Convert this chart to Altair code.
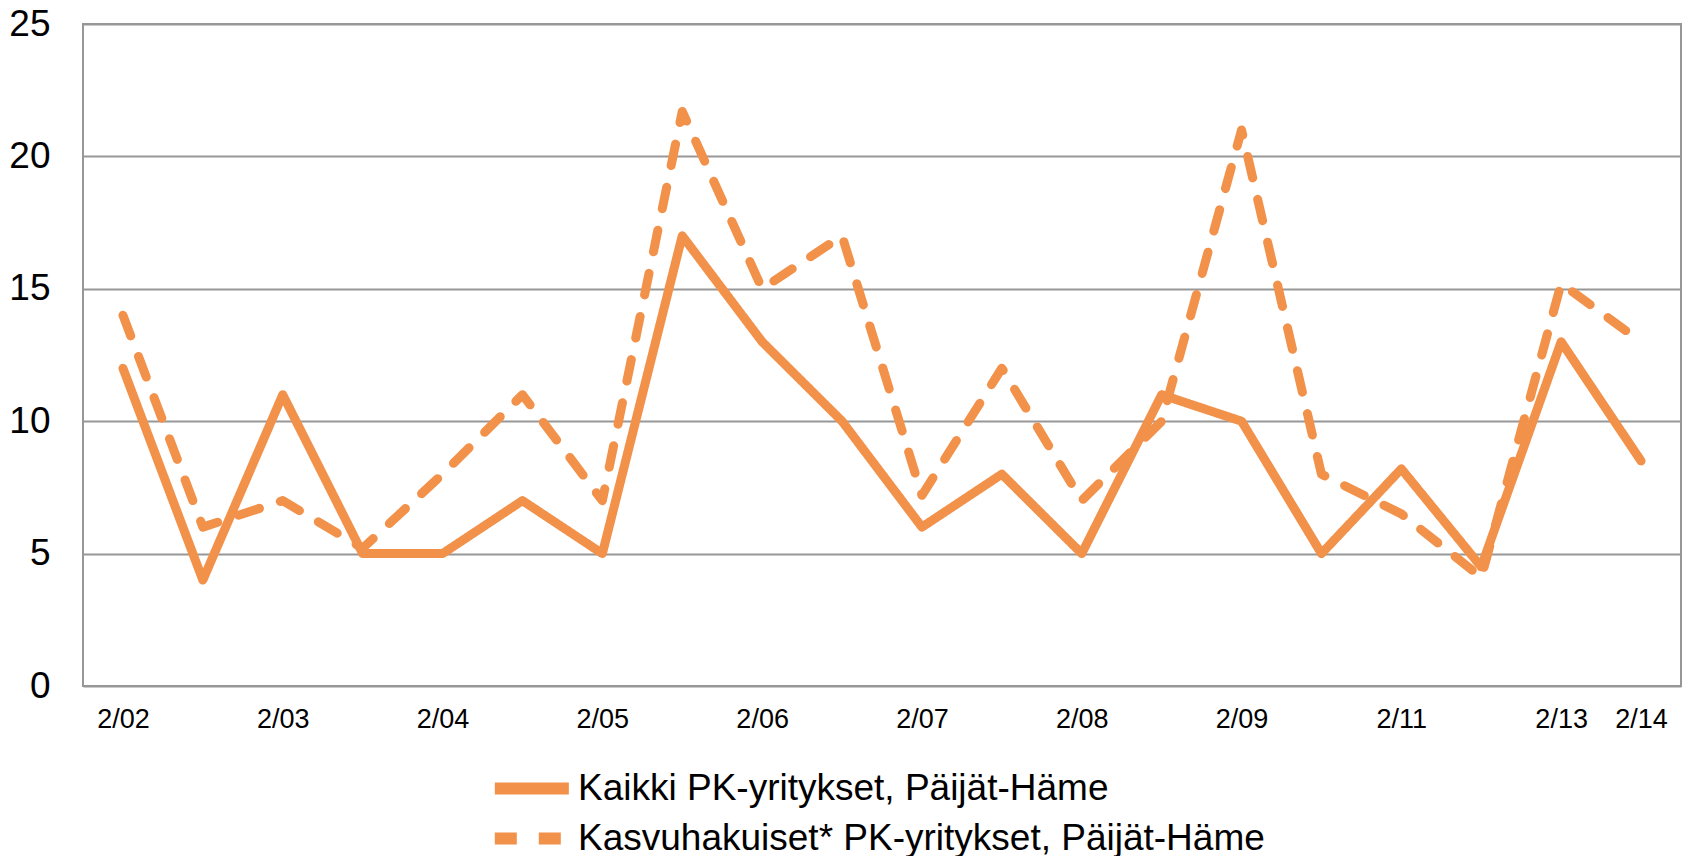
import altair as alt
import pandas as pd

# Periods (half-yearly early on); only some are labelled on the axis
categories = ["2/02", "8/02", "2/03", "8/03", "2/04", "8/04", "2/05", "8/05",
              "2/06", "8/06", "2/07", "8/07", "2/08", "8/08", "2/09", "2/10",
              "2/11", "2/12", "2/13", "2/14"]
tick_labels = ["2/02", "2/03", "2/04", "2/05", "2/06", "2/07", "2/08", "2/09",
               "2/11", "2/13", "2/14"]

series_names = ["Kaikki PK-yritykset, Päijät-Häme",
                "Kasvuhakuiset* PK-yritykset, Päijät-Häme"]

kaikki = [12, 4, 11, 5, 5, 7, 5, 17, 13, 10, 6, 8, 5, 11, 10, 5, 8.2, 4.5, 13, 8.5]
kasvuhakuiset = [14, 6, 7, 5.2, 8, 11, 7, 21.7, 15, 17, 7.2, 12, 7, 10, 21, 8, 6.5, 4.1, 15.2, 13]

ORANGE = "#F2914A"
GRID = "#979797"

rows = []
for name, vals in zip(series_names, [kaikki, kasvuhakuiset]):
    for i, (c, v) in enumerate(zip(categories, vals)):
        rows.append({"period": c, "value": v, "series": name, "order": i})
df = pd.DataFrame(rows)

chart = alt.Chart(df).mark_line(
    color=ORANGE, strokeWidth=9, strokeCap="round", strokeJoin="round"
).encode(
    x=alt.X("period:N", sort=categories, title=None,
            scale=alt.Scale(type="point", padding=0.5),
            axis=alt.Axis(values=tick_labels, labelAngle=0, ticks=False,
                          domain=False, grid=False, labelFontSize=27,
                          labelFont="Liberation Sans", labelColor="black",
                          labelPadding=20)),
    y=alt.Y("value:Q", title=None,
            scale=alt.Scale(domain=[0, 25], nice=False),
            axis=alt.Axis(values=[0, 5, 10, 15, 20, 25], ticks=False,
                          domain=False, grid=True, gridColor=GRID,
                          gridWidth=2, labelFontSize=37,
                          labelFont="Liberation Sans", labelColor="black",
                          labelPadding=33)),
    strokeDash=alt.StrokeDash("series:N", sort=series_names, title=None,
                              scale=alt.Scale(domain=series_names,
                                              range=[[1, 0], [22, 22]]),
                              legend=alt.Legend(
                                  orient="none", legendX=455, legendY=746,
                                  direction="vertical", symbolType="M-5,0H1",
                                  symbolSize=609, symbolStrokeWidth=12,
                                  symbolStrokeColor=ORANGE,
                                  labelFontSize=37, labelFont="Liberation Sans",
                                  labelColor="black", labelOffset=3,
                                  rowPadding=1, padding=0, labelLimit=1000)),
    order="order:Q",
).properties(
    width=1598, height=662,
    autosize=alt.AutoSizeParams(type="none"),
    padding={"left": 75, "top": 16, "right": 1, "bottom": 170},
).configure_view(
    stroke=GRID, strokeWidth=2
)

chart.save("out.html", embed_options={"renderer": "svg", "actions": False})
